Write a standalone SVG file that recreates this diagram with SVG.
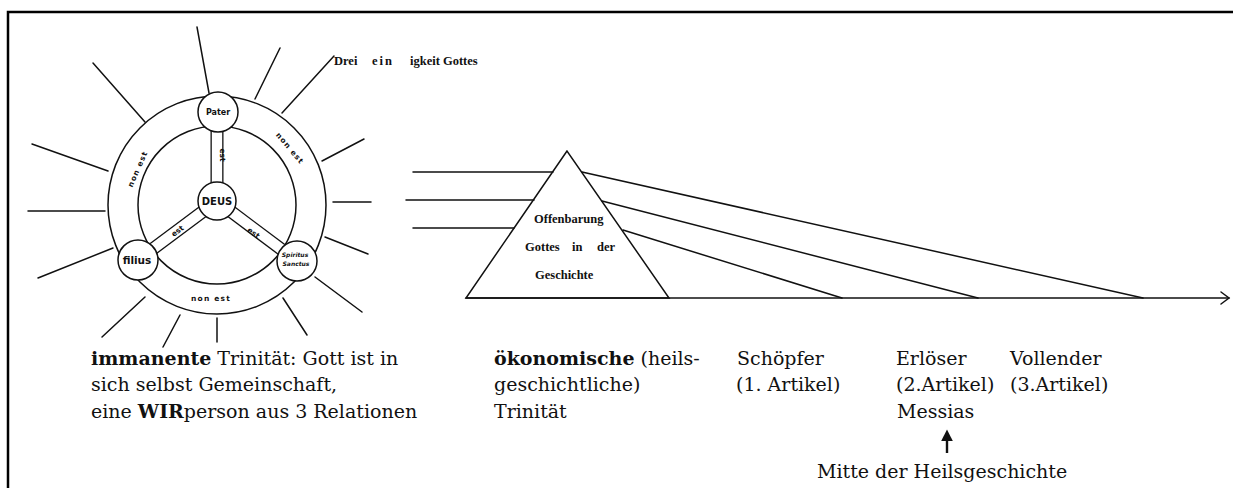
<svg xmlns="http://www.w3.org/2000/svg" width="1233" height="488" viewBox="0 0 1233 488">
<style>
.ln{stroke:#111;stroke-width:1.5;fill:none;stroke-linecap:round}
.nd{stroke:#111;stroke-width:1.5;fill:#fff}
.hw{font-family:"DejaVu Sans",sans-serif;font-weight:bold;fill:#111}
.tri{font-family:"Liberation Serif",serif;font-weight:bold;font-size:12.5px;fill:#111}
.cap{font-family:"DejaVu Serif",serif;font-size:19px;fill:#111}
.b{font-weight:bold}
</style>
<defs>
<marker id="up" viewBox="0 0 10 10" refX="2" refY="5" markerWidth="12" markerHeight="12" markerUnits="userSpaceOnUse" orient="auto">
<path d="M0,0 L10,5 L0,10 Z" fill="#111"/>
</marker>
</defs>
<path d="M8,488 L8,12 L1233,12" fill="none" stroke="#000" stroke-width="2.5"/>

<g id="trinity-ring">
<circle class="ln" cx="217" cy="205" r="109"/>
<circle class="ln" cx="217" cy="205" r="79"/>
</g>

<g id="connectors">
<g id="spokes">
<line x1="217" y1="201" x2="217" y2="112" stroke="#111" stroke-width="13"/>
<line x1="217" y1="201" x2="217" y2="112" stroke="#fff" stroke-width="10.4"/>
<line x1="217" y1="201" x2="138" y2="260" stroke="#111" stroke-width="13"/>
<line x1="217" y1="201" x2="138" y2="260" stroke="#fff" stroke-width="10.4"/>
<line x1="217" y1="201" x2="297" y2="261" stroke="#111" stroke-width="13"/>
<line x1="217" y1="201" x2="297" y2="261" stroke="#fff" stroke-width="10.4"/>
</g>
<g id="rays">
<line class="ln" x1="209" y1="93" x2="197" y2="27"/>
<line class="ln" x1="255" y1="99" x2="280" y2="48"/>
<line class="ln" x1="282" y1="113" x2="334" y2="56"/>
<line class="ln" x1="322" y1="161" x2="364" y2="139"/>
<line class="ln" x1="333" y1="202" x2="371" y2="202"/>
<line class="ln" x1="325" y1="237" x2="368" y2="254"/>
<line class="ln" x1="315" y1="277" x2="362" y2="312"/>
<line class="ln" x1="283" y1="298" x2="307" y2="335"/>
<line class="ln" x1="217" y1="318" x2="217" y2="342"/>
<line class="ln" x1="180" y1="315" x2="163" y2="347"/>
<line class="ln" x1="145" y1="297" x2="102" y2="337"/>
<line class="ln" x1="113" y1="248" x2="38" y2="278"/>
<line class="ln" x1="105" y1="211" x2="28" y2="211"/>
<line class="ln" x1="108" y1="171" x2="32" y2="144"/>
<line class="ln" x1="145" y1="122" x2="93" y2="63"/>
</g>
<g id="light-rays">
<line class="ln" x1="413" y1="172" x2="553" y2="172"/>
<line class="ln" x1="406" y1="200" x2="534" y2="200"/>
<line class="ln" x1="413" y1="228" x2="514" y2="228"/>
<line class="ln" x1="582" y1="172" x2="1143" y2="298"/>
<line class="ln" x1="602" y1="201" x2="978" y2="298"/>
<line class="ln" x1="623" y1="230" x2="842" y2="298"/>
</g>
<g id="time-axis">
<line class="ln" x1="466" y1="298" x2="1229" y2="298"/>
<path class="ln" d="M1221,292 L1229,298 L1221,304"/>
</g>
<line id="mitte-arrow" x1="947" y1="453" x2="947" y2="439" stroke="#111" stroke-width="2.4" marker-end="url(#up)"/>
</g>

<g id="pater">
<circle class="nd" cx="218" cy="112" r="20"/>
<text class="hw" x="218" y="115" font-size="8" text-anchor="middle">Pater</text>
</g>
<g id="deus">
<circle class="nd" cx="217" cy="201" r="19"/>
<text class="hw" x="217" y="205" font-size="10" text-anchor="middle">DEUS</text>
</g>
<g id="filius">
<circle class="nd" cx="138" cy="260" r="20"/>
<text class="hw" x="137" y="264" font-size="10.5" text-anchor="middle" font-weight="normal">filius</text>
</g>
<g id="spiritus">
<circle class="nd" cx="297" cy="261" r="20"/>
<text class="hw" x="295" y="257" font-size="6" text-anchor="middle" font-style="italic" font-weight="normal">Spiritus</text>
<text class="hw" x="296" y="266" font-size="6" text-anchor="middle" font-style="italic" font-weight="normal">Sanctus</text>
</g>

<g id="relation-labels" class="hw" font-size="7.5">
<text transform="translate(220,155) rotate(90)" text-anchor="middle">est</text>
<text transform="translate(179,233) rotate(-37)" text-anchor="middle">est</text>
<text transform="translate(252,235) rotate(37)" text-anchor="middle">est</text>
<text transform="translate(140,170) rotate(-66)" text-anchor="middle" letter-spacing="1">non  est</text>
<text transform="translate(288,150) rotate(50)" text-anchor="middle" letter-spacing="1">non   est</text>
<text transform="translate(211,301)" text-anchor="middle" letter-spacing="1.2">non    est</text>
</g>

<g id="dreieinigkeit" class="tri" font-size="12.5">
<text x="334" y="65">Drei</text>
<text x="372" y="65" letter-spacing="2">ein</text>
<text x="410" y="65">igkeit Gottes</text>
</g>

<g id="offenbarung">
<path class="ln" d="M567,151 L466,298 L669,298 Z" stroke-linejoin="miter"/>
<text class="tri" x="534" y="223">Offenbarung</text>
<text class="tri" x="525" y="251">Gottes</text>
<text class="tri" x="572" y="251">in</text>
<text class="tri" x="597" y="251">der</text>
<text class="tri" x="535" y="279">Geschichte</text>
</g>

<g id="immanent-text" class="cap">
<text x="91" y="365"><tspan class="b">immanente</tspan> Trinität: Gott ist in</text>
<text x="91" y="391">sich selbst Gemeinschaft,</text>
<text x="91" y="418">eine <tspan class="b">WIR</tspan>person aus 3 Relationen</text>
</g>
<g id="oekonomisch-text" class="cap">
<text x="494" y="365"><tspan class="b">ökonomische</tspan> (heils-</text>
<text x="494" y="391">geschichtliche)</text>
<text x="494" y="418">Trinität</text>
</g>
<g id="schoepfer" class="cap">
<text x="737" y="365">Schöpfer</text>
<text x="736" y="391">(1. Artikel)</text>
</g>
<g id="erloeser" class="cap">
<text x="896" y="365">Erlöser</text>
<text x="896" y="391">(2.Artikel)</text>
<text x="897" y="418">Messias</text>
</g>
<g id="vollender" class="cap">
<text x="1010" y="365">Vollender</text>
<text x="1010" y="391">(3.Artikel)</text>
</g>
<g id="mitte" class="cap">
<text x="817" y="478">Mitte der Heilsgeschichte</text>
</g>
</svg>
